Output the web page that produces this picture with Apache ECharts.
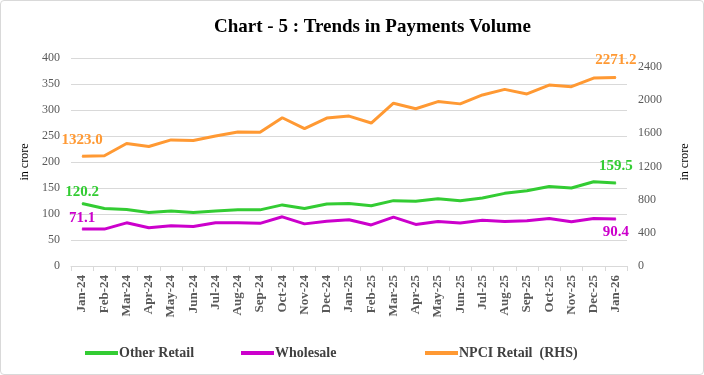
<!DOCTYPE html>
<html>
<head>
<meta charset="utf-8">
<script src="https://cdn.jsdelivr.net/npm/echarts@6/dist/echarts.min.js"></script>
<style>
  html, body { margin: 0; padding: 0; background: #fff; }
  #main { width: 702px; height: 373px; border: 1px solid #d9d9d9; border-radius: 4px; }
</style>
</head>
<body>
<div id="main"></div>
<script>
    var months = ['Jan-24', 'Feb-24', 'Mar-24', 'Apr-24', 'May-24', 'Jun-24', 'Jul-24', 'Aug-24', 'Sep-24',
        'Oct-24', 'Nov-24', 'Dec-24', 'Jan-25', 'Feb-25', 'Mar-25', 'Apr-25', 'May-25', 'Jun-25', 'Jul-25',
        'Aug-25', 'Sep-25', 'Oct-25', 'Nov-25', 'Dec-25', 'Jan-26'];
    var otherRetail = [120.2, 110.5, 108.6, 103, 106, 103, 106, 108, 108, 117.5, 110.5, 119.4, 120,
        116, 125.7, 124.4, 129.5, 125.7, 130.8, 139.7, 144.8, 153, 150, 162, 159.5];
    var wholesale = [71.1, 71, 83, 73.6, 77.4, 76, 83, 83, 82, 94.6, 81, 86, 89,
        79, 94, 80, 85.7, 82.5, 88, 85.7, 87, 91.4, 85, 91.4, 90.4];
    var npciRetail = [1323.0, 1329, 1477, 1441, 1520, 1513, 1568, 1616, 1612, 1787, 1656, 1783, 1807,
        1723, 1962, 1895, 1982, 1954, 2062, 2129, 2074, 2181, 2161, 2265, 2271.2];

    var serif = '"Liberation Serif", "DejaVu Serif", serif';

    // only first and last points get a value label
    function withEndLabels(arr, color, firstPos, firstDist, lastPos, lastDist) {
        return arr.map(function (v, i) {
            if (i === 0 || i === arr.length - 1) {
                return {
                    value: v,
                    label: {
                        show: true,
                        position: i === 0 ? firstPos : lastPos,
                        distance: i === 0 ? firstDist : lastDist,
                        formatter: function (p) { return p.value.toFixed(1); },
                        color: color,
                        fontFamily: serif,
                        fontWeight: 'bold',
                        fontSize: 15
                    }
                };
            }
            return v;
        });
    }

    function legendAt(left, name) {
        return {
            left: left,
            top: 340,
            itemWidth: 33,
            itemHeight: 4,
            icon: 'rect',
            textStyle: {
                fontFamily: serif,
                fontWeight: 'bold',
                fontSize: 14,
                color: '#404040',
                padding: [0, 0, 0, -4]
            },
            data: [name]
        };
    }

    var myChart = echarts.init(document.getElementById('main'));
    var option = {
        animation: false,
        title: {
            text: 'Chart - 5 : Trends in Payments Volume',
            left: 208,
            top: 12,
            textStyle: {
                fontFamily: serif,
                fontWeight: 'bold',
                fontSize: 19,
                color: '#000'
            }
        },
        legend: [
            legendAt(79, 'Other Retail'),
            legendAt(235, 'Wholesale'),
            legendAt(419, 'NPCI Retail  (RHS)')
        ],
        grid: {
            left: 70,
            right: 76,
            top: 57,
            bottom: 108
        },
        xAxis: [{
            type: 'category',
            data: months,
            boundaryGap: true,
            axisLine: { lineStyle: { color: '#d9d9d9' } },
            axisTick: { show: true, length: 5, lineStyle: { color: '#d9d9d9' } },
            axisLabel: {
                rotate: 90,
                interval: 0,
                margin: 9,
                fontFamily: serif,
                fontWeight: 'bold',
                fontSize: 13,
                color: '#595959'
            }
        }],
        yAxis: [{
            type: 'value',
            min: 0,
            max: 400,
            interval: 50,
            name: 'in crore',
            nameLocation: 'middle',
            nameRotate: 90,
            nameGap: 40,
            nameTextStyle: { fontFamily: serif, fontSize: 12, color: '#000' },
            axisLine: { show: false },
            axisTick: { show: false },
            splitLine: { lineStyle: { color: '#d9d9d9' } },
            axisLabel: { fontFamily: serif, fontSize: 12, color: '#595959', margin: 11 }
        }, {
            type: 'value',
            min: 0,
            max: 2507,
            interval: 400,
            name: 'in crore',
            nameLocation: 'middle',
            nameRotate: 90,
            nameGap: 52,
            nameTextStyle: { fontFamily: serif, fontSize: 12, color: '#000' },
            axisLine: { show: false },
            axisTick: { show: false },
            splitLine: { show: false },
            axisLabel: {
                fontFamily: serif, fontSize: 12, color: '#595959', margin: 11, showMaxLabel: false,
                formatter: function (v) { return String(v); }
            }
        }],
        series: [{
            name: 'Other Retail',
            type: 'line',
            yAxisIndex: 0,
            symbol: 'circle',
            symbolSize: 1,
            color: '#33cc33',
            lineStyle: { width: 3 },
            data: withEndLabels(otherRetail, '#33cc33', 'top', 3, 'top', 9)
        }, {
            name: 'Wholesale',
            type: 'line',
            yAxisIndex: 0,
            symbol: 'circle',
            symbolSize: 1,
            color: '#cc00cc',
            lineStyle: { width: 3 },
            data: withEndLabels(wholesale, '#cc00cc', 'top', 3, 'bottom', 5)
        }, {
            name: 'NPCI Retail  (RHS)',
            type: 'line',
            yAxisIndex: 1,
            symbol: 'circle',
            symbolSize: 1,
            color: '#ff9933',
            lineStyle: { width: 3 },
            data: withEndLabels(npciRetail, '#ff9933', 'top', 8, 'top', 9)
        }]
    };
    myChart.setOption(option);
</script>
</body>
</html>
